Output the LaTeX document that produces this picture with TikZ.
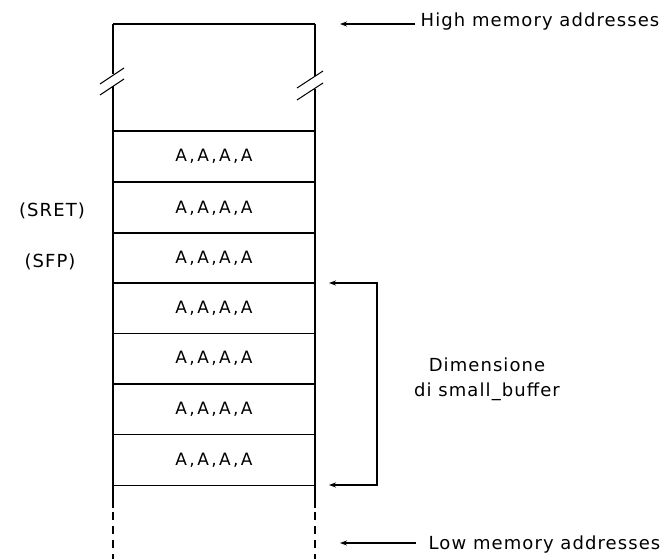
\documentclass[tikz,border=0pt]{standalone}
\usepackage{fontspec}
\setmainfont{DejaVu Sans}
\usetikzlibrary{arrows.meta}
\begin{document}
\begin{tikzpicture}[x=1pt,y=-1pt,
  line width=1.3pt,
  cell/.style={draw, rectangle, minimum width=202pt, minimum height=50.6pt, inner sep=0pt,
    font=\fontsize{17}{20}\selectfont\addfontfeature{LetterSpace=14}},
  lbl/.style={font=\fontsize{18}{25}\selectfont\addfontfeature{LetterSpace=6}, inner sep=0pt, align=center},
  arr/.style={line width=1.1pt, -{Stealth[length=7pt,width=5pt]}}
]
\useasboundingbox (0,0) rectangle (667,559);
% top region
\coordinate (tl) at (113,24);
\coordinate (tr) at (315,24);
\draw (tl) -- (tr);
\draw (113,24) -- (113,74);
\draw (113,86) -- (113,131);
\draw (315,24) -- (315,76);
\draw (315,89) -- (315,131);
% break marks
\draw[line width=1pt] (100,84) -- (124,68);
\draw[line width=1pt] (100,95) -- (124,79);
\draw[line width=1pt] (297,88) -- (323,71);
\draw[line width=1pt] (297,100) -- (323,83);
% cells
\foreach \i/\y in {1/156.3,2/207.8,3/258.3,4/308.3,5/358.5,6/409.5,7/460}{
  \node[cell] (c\i) at (214,\y) {A,A,A,A};
}
% lower part
\draw (113,485) -- (113,508);
\draw (315,485) -- (315,508);
\draw[dash pattern=on 8pt off 6pt] (113,512) -- (113,559);
\draw[dash pattern=on 8pt off 6pt] (315,512) -- (315,559);
% left labels
\node[lbl] (sret) at (52,211) {(SRET)};
\node[lbl] (sfp) at (50,262) {(SFP)};
% high / low
\node[lbl, anchor=west] (high) at (420,22) {High memory addresses};
\node[lbl, anchor=west] (low) at (428,545) {Low memory addresses};
\coordinate (hightip) at (340,24);
\coordinate (lowtip) at (340,543);
\draw[arr] (high.west |- hightip) ++(-5,0) -- (hightip);
\draw[arr] (low.west |- lowtip) ++(-12,0) -- (lowtip);
% bracket
\coordinate (btop) at (377,283);
\coordinate (bbot) at (377,485);
\coordinate (ttop) at (329,283);
\coordinate (tbot) at (329,485);
\draw[arr] (bbot) -- (btop) -- (ttop);
\draw[arr] (btop) -- (bbot) -- (tbot);
\node[lbl] (dim) at (487,379) {Dimensione\\di small\_buffer};
\end{tikzpicture}
\end{document}
